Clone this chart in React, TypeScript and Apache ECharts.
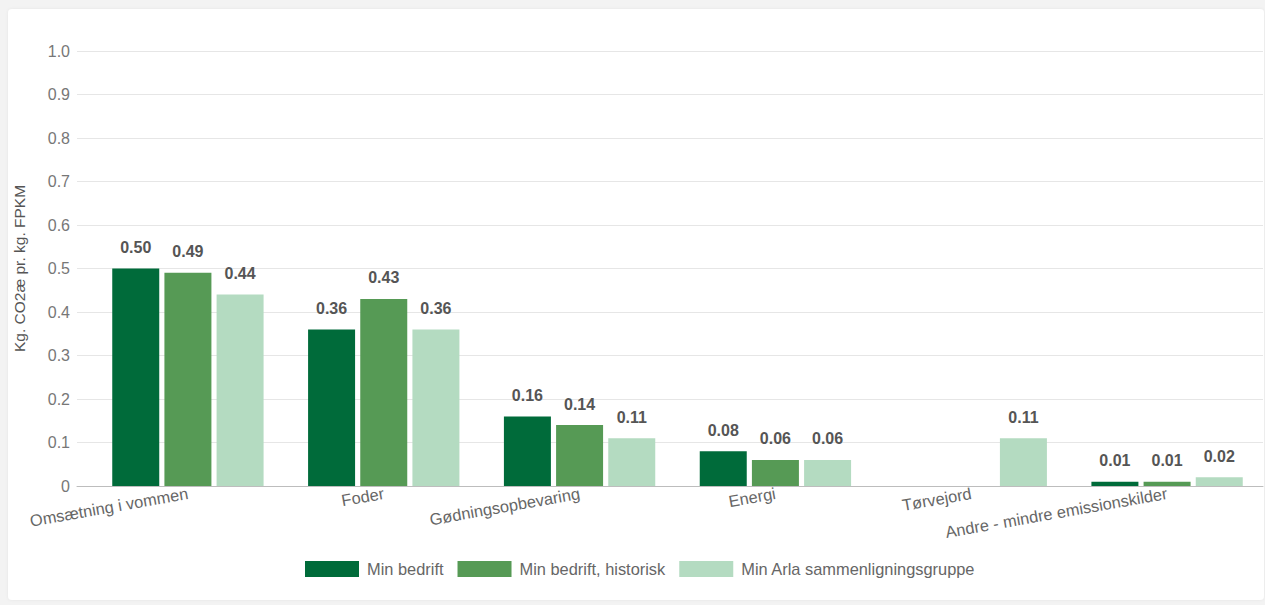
import React, { useEffect, useRef } from "react";
import * as echarts from "echarts";

const categories = [
  "Omsætning i vommen",
  "Foder",
  "Gødningsopbevaring",
  "Energi",
  "Tørvejord",
  "Andre - mindre emissionskilder",
];
const minBedrift: (number | string)[] = [0.5, 0.36, 0.16, 0.08, "-", 0.01];
const minBedriftHistorisk: (number | string)[] = [0.49, 0.43, 0.14, 0.06, "-", 0.01];
const arlaGruppe: (number | string)[] = [0.44, 0.36, 0.11, 0.06, 0.11, 0.02];
const seriesNames = ["Min bedrift", "Min bedrift, historisk", "Min Arla sammenligningsgruppe"];
const seriesColors = ["#006b3a", "#569a55", "#b4dbc1"];
const yAxisName = "Kg. CO2æ pr. kg. FPKM";

const FONT = "Liberation Sans, Arial, sans-serif";

export default function App() {
  const ref = useRef<HTMLDivElement>(null);
  useEffect(() => {
    document.body.style.margin = "0";
    if (!ref.current) return;
    const chart = echarts.init(ref.current, undefined, { renderer: "svg" });
    const data = [minBedrift, minBedriftHistorisk, arlaGruppe];
    chart.setOption({
      animation: false,
      backgroundColor: "#f3f3f3",
      textStyle: { fontFamily: FONT },
      graphic: [
        {
          type: "rect",
          z: -10,
          silent: true,
          shape: { x: 8, y: 9, width: 1256, height: 591, r: 4 },
          style: { fill: "#ffffff", shadowBlur: 3, shadowColor: "rgba(0,0,0,0.06)" },
        },
      ],
      grid: [
        { left: 77, right: 2, top: 51, bottom: 119 },
        { left: 90, right: -1, top: 51, bottom: 119 },
      ],
      xAxis: [
        {
          gridIndex: 0,
          type: "category",
          data: categories,
          axisLine: { show: true, lineStyle: { color: "#bdbdbd", width: 1 } },
          axisTick: { show: false },
          axisLabel: { show: false },
          splitLine: { show: false },
        },
        {
          gridIndex: 1,
          type: "category",
          data: categories,
          axisLine: { show: false },
          axisTick: { show: false },
          axisLabel: {
            rotate: 10,
            margin: 7,
            color: "#666",
            fontSize: 16.4,
            fontFamily: FONT,
            interval: 0,
          },
        },
      ],
      yAxis: [
        {
          gridIndex: 0,
          type: "value",
          min: 0,
          max: 1,
          interval: 0.1,
          name: yAxisName,
          nameLocation: "middle",
          nameGap: 50,
          nameTextStyle: { color: "#555", fontSize: 15.5, fontFamily: FONT },
          axisLine: { show: false },
          axisTick: { show: false },
          axisLabel: {
            margin: 7,
            color: "#777",
            fontSize: 16,
            fontFamily: FONT,
            formatter: (v: number) => (v === 0 ? "0" : v.toFixed(1)),
          },
          splitLine: { show: true, lineStyle: { color: "#e6e6e6", width: 1 } },
        },
        {
          gridIndex: 1,
          type: "value",
          min: 0,
          max: 1,
          interval: 0.1,
          show: false,
          splitLine: { show: false },
        },
      ],
      legend: {
        top: 556,
        left: 300,
        itemWidth: 54,
        itemHeight: 16,
        itemGap: 14,
        icon: "rect",
        textStyle: { color: "#666", fontSize: 16.4, fontFamily: FONT, padding: [0, 0, 0, 3] },
        data: seriesNames,
      },
      series: seriesNames.map((name, i) => ({
        name,
        type: "bar",
        xAxisIndex: 1,
        yAxisIndex: 1,
        data: data[i],
        barWidth: 47,
        barGap: "11%",
        itemStyle: { color: seriesColors[i] },
        label: {
          show: true,
          position: "top",
          distance: 13,
          color: "#555",
          fontSize: 16,
          fontWeight: "bold",
          fontFamily: FONT,
          formatter: (p: any) => (typeof p.value === "number" ? p.value.toFixed(2) : ""),
        },
      })),
    });
    return () => chart.dispose();
  }, []);
  return <div ref={ref} style={{ width: 1265, height: 605 }} />;
}
